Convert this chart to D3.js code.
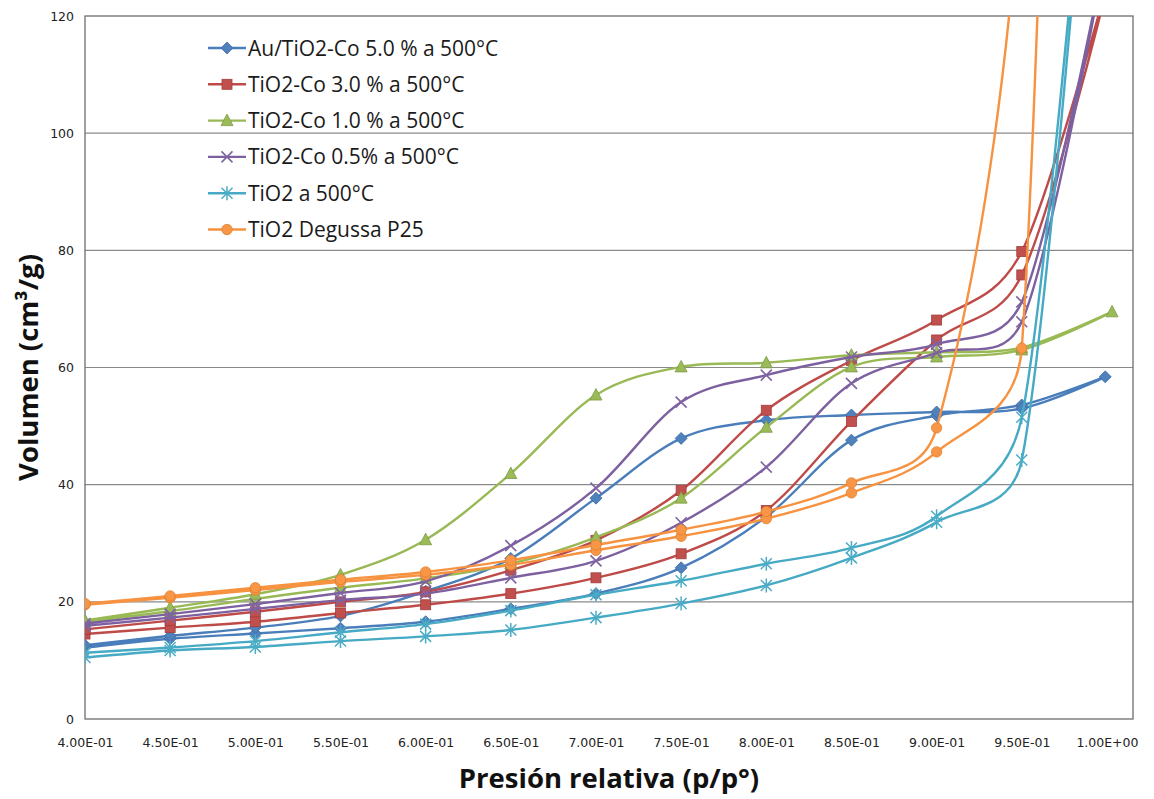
<!DOCTYPE html>
<html>
<head>
<meta charset="utf-8">
<script src="https://cdn.jsdelivr.net/npm/d3@7"></script>
<style>
  html, body { margin: 0; padding: 0; background: #ffffff; }
  svg { display: block; }
</style>
</head>
<body>
<svg id="chart" width="1154" height="799"></svg>
<script>
// Axis ticks
const xTicks = [0.40, 0.45, 0.50, 0.55, 0.60, 0.65, 0.70, 0.75, 0.80, 0.85, 0.90, 0.95, 1.00];
const xTickLabels = ["4.00E-01", "4.50E-01", "5.00E-01", "5.50E-01", "6.00E-01", "6.50E-01", "7.00E-01",
                     "7.50E-01", "8.00E-01", "8.50E-01", "9.00E-01", "9.50E-01", "1.00E+00"];
const yTicks = [0, 20, 40, 60, 80, 100, 120];

const seriesNames = [
  "Au/TiO2-Co 5.0 % a 500°C",
  "TiO2-Co 3.0 % a 500°C",
  "TiO2-Co 1.0 % a 500°C",
  "TiO2-Co 0.5% a 500°C",
  "TiO2 a 500°C",
  "TiO2 Degussa P25"
];

// Adsorption branch pressures (p/p°)
const pAds = [0.40, 0.45, 0.50, 0.55, 0.60, 0.65, 0.70, 0.75, 0.80, 0.85, 0.90, 0.95];
// Desorption branch pressures, from 0.95 back down to 0.40
const pDes = [0.95, 0.90, 0.85, 0.80, 0.75, 0.70, 0.65, 0.60, 0.55, 0.50, 0.45, 0.40];

// Highest-pressure point of each isotherm (where adsorption turns into desorption)
const topP = [0.999, 1.000, 1.003, 0.996, 0.993, 0.985];
const topV = [58.4, 125, 69.5, 126, 170, 400];

// Adsorbed volume, cm³/g
const adsAu5  = [12.2, 13.7, 14.6, 15.5, 16.6, 18.8, 21.4, 25.8, 34.5, 47.6, 51.8, 53.6];
const desAu5  = [53.0, 52.4, 51.9, 51.0, 47.9, 37.7, 27.4, 21.8, 17.6, 15.6, 14.2, 12.6];

const adsCo30 = [14.5, 15.6, 16.6, 18.1, 19.5, 21.4, 24.1, 28.2, 35.6, 50.8, 64.7, 75.8];
const desCo30 = [79.8, 68.1, 61.2, 52.7, 39.0, 30.5, 25.4, 21.7, 20.0, 18.3, 16.8, 15.3];

const adsCo10 = [16.6, 18.4, 20.5, 22.4, 24.0, 26.5, 31.0, 37.7, 49.8, 60.1, 61.8, 63.0];
const desCo10 = [63.4, 62.6, 62.1, 60.8, 60.1, 55.3, 41.9, 30.6, 24.6, 21.3, 19.0, 16.8];

const adsCo05 = [15.9, 17.3, 18.8, 20.3, 21.4, 24.1, 27.0, 33.5, 43.0, 57.3, 62.5, 67.8];
const desCo05 = [71.2, 64.0, 61.8, 58.7, 54.1, 39.4, 29.6, 23.5, 21.5, 19.6, 17.9, 16.3];

const adsTiO2 = [10.5, 11.7, 12.3, 13.3, 14.1, 15.2, 17.3, 19.7, 22.8, 27.5, 33.6, 44.2];
const desTiO2 = [51.5, 34.6, 29.2, 26.5, 23.6, 21.2, 18.5, 16.2, 14.8, 13.3, 12.2, 11.3];

const adsP25  = [19.5, 20.7, 22.0, 23.4, 24.6, 26.3, 28.8, 31.2, 34.2, 38.6, 45.6, 63.3];
const desP25  = [145, 49.7, 40.3, 35.4, 32.3, 29.7, 27.1, 25.1, 23.8, 22.4, 21.0, 19.7];

const seriesAds = [adsAu5, adsCo30, adsCo10, adsCo05, adsTiO2, adsP25];
const seriesDes = [desAu5, desCo30, desCo10, desCo05, desTiO2, desP25];
const lineColors   = ["#4A7EBB", "#BE4B48", "#98B954", "#7D60A0", "#46AAC5", "#F69240"];
const markerColors = ["#4F81BD", "#C0504D", "#9BBB59", "#8064A2", "#4BACC6", "#F79646"];
const markerTypes  = ["diamond", "square", "triangle", "x", "star", "circle"];

// Layout
const plot = { left: 85, right: 1133, top: 16, bottom: 719 };
const svg = d3.select("#chart");

const x = d3.scaleLinear().domain([0.4, 1.0153]).range([plot.left, plot.right]);
const y = d3.scaleLinear().domain([0, 120]).range([plot.bottom, plot.top]);

svg.append("defs").append("clipPath").attr("id", "plot-clip")
  .append("rect")
  .attr("x", plot.left).attr("y", plot.top)
  .attr("width", plot.right - plot.left).attr("height", plot.bottom - plot.top);

// Horizontal gridlines
svg.append("g")
  .selectAll("line")
  .data(yTicks.filter(d => d > 0 && d < 120))
  .join("line")
  .attr("x1", plot.left).attr("x2", plot.right)
  .attr("y1", d => y(d)).attr("y2", d => y(d))
  .attr("stroke", "#8a8a8a").attr("stroke-width", 1.1);

// Plot frame
svg.append("rect")
  .attr("x", plot.left).attr("y", plot.top)
  .attr("width", plot.right - plot.left).attr("height", plot.bottom - plot.top)
  .attr("fill", "none").attr("stroke", "#6e6e6e").attr("stroke-width", 1.3);

// Axes
const xAxis = d3.axisBottom(x)
  .tickValues(xTicks)
  .tickSize(0)
  .tickPadding(19)
  .tickFormat((d, i) => xTickLabels[i]);
const gx = svg.append("g").attr("transform", `translate(0,${plot.bottom})`).call(xAxis);
gx.select(".domain").remove();
gx.selectAll("text")
  .attr("font-family", "DejaVu Sans, Verdana, sans-serif")
  .attr("font-size", 12.5)
  .attr("fill", "#222");

const yAxis = d3.axisLeft(y)
  .tickValues(yTicks)
  .tickSize(0)
  .tickPadding(11);
const gy = svg.append("g").attr("transform", `translate(${plot.left},0)`).call(yAxis);
gy.select(".domain").remove();
gy.selectAll("text")
  .attr("font-family", "DejaVu Sans, Verdana, sans-serif")
  .attr("font-size", 12.5)
  .attr("fill", "#222");

// Axis titles
svg.append("text")
  .attr("x", (plot.left + plot.right) / 2)
  .attr("y", 788)
  .attr("text-anchor", "middle")
  .attr("font-family", "Open Sans, sans-serif")
  .attr("font-weight", "bold")
  .attr("font-size", 27.5)
  .attr("fill", "#111")
  .text("Presión relativa (p/p°)");

svg.append("text")
  .attr("transform", `translate(38,${(plot.top + plot.bottom) / 2}) rotate(-90)`)
  .attr("text-anchor", "middle")
  .attr("font-family", "Open Sans, sans-serif")
  .attr("font-weight", "bold")
  .attr("font-size", 27.5)
  .attr("fill", "#111")
  .text("Volumen (cm³/g)");

// Marker glyphs
function drawMarker(g, type, color) {
  if (type === "diamond") {
    g.append("path").attr("d", "M0,-6L6,0L0,6L-6,0Z").attr("fill", color).attr("stroke", "#3d6aa0").attr("stroke-width", 0.8);
  } else if (type === "square") {
    g.append("rect").attr("x", -5).attr("y", -5).attr("width", 10).attr("height", 10)
      .attr("fill", color).attr("stroke", "#a33d3a").attr("stroke-width", 0.8);
  } else if (type === "triangle") {
    g.append("path").attr("d", "M0,-6.5L6,5L-6,5Z").attr("fill", color).attr("stroke", "#7d9a44").attr("stroke-width", 0.8);
  } else if (type === "x") {
    g.append("path").attr("d", "M-5.5,-5.5L5.5,5.5M-5.5,5.5L5.5,-5.5")
      .attr("stroke", color).attr("stroke-width", 1.6).attr("fill", "none");
  } else if (type === "star") {
    g.append("path").attr("d", "M-5.5,-5.5L5.5,5.5M-5.5,5.5L5.5,-5.5M0,-7L0,7")
      .attr("stroke", color).attr("stroke-width", 1.5).attr("fill", "none");
  } else if (type === "circle") {
    g.append("circle").attr("r", 5.2).attr("fill", color).attr("stroke", "#e07f2e").attr("stroke-width", 0.8);
  }
}

// Spreadsheet-style smoothing: Bezier segments whose handles follow the
// neighbour-to-neighbour direction, with handle length capped at half the segment.
function smoothCurve(context) {
  let pts = [];
  return {
    areaStart() {}, areaEnd() {},
    lineStart() { pts = []; },
    point(px, py) { pts.push([+px, +py]); },
    lineEnd() {
      const n = pts.length;
      if (!n) return;
      context.moveTo(pts[0][0], pts[0][1]);
      if (n === 1) return;
      const tan = pts.map((p, i) => {
        const a = pts[Math.max(0, i - 1)], b = pts[Math.min(n - 1, i + 1)];
        const dx = b[0] - a[0], dy = b[1] - a[1], L = Math.hypot(dx, dy);
        return L > 0 ? [dx / L, dy / L, L / 6] : [0, 0, 0];
      });
      for (let i = 0; i < n - 1; i++) {
        const p = pts[i], q = pts[i + 1];
        const d = Math.hypot(q[0] - p[0], q[1] - p[1]);
        const a1 = Math.min(tan[i][2], d / 2), a2 = Math.min(tan[i + 1][2], d / 2);
        context.bezierCurveTo(
          p[0] + tan[i][0] * a1, p[1] + tan[i][1] * a1,
          q[0] - tan[i + 1][0] * a2, q[1] - tan[i + 1][1] * a2,
          q[0], q[1]);
      }
    }
  };
}

const lineGen = d3.line()
  .x(d => x(d[0]))
  .y(d => y(d[1]))
  .curve(smoothCurve);

// Series: adsorption up to the top point, then desorption back down, as one line
const gSeries = svg.append("g").attr("clip-path", "url(#plot-clip)");
seriesNames.forEach((name, i) => {
  const pts = pAds.map((p, j) => [p, seriesAds[i][j]])
    .concat([[topP[i], topV[i]]])
    .concat(pDes.map((p, j) => [p, seriesDes[i][j]]));
  const g = gSeries.append("g");
  g.append("path")
    .attr("d", lineGen(pts))
    .attr("fill", "none")
    .attr("stroke", lineColors[i])
    .attr("stroke-width", 2.4)
    .attr("stroke-linejoin", "round");
  pts.forEach(d => {
    const m = g.append("g").attr("transform", `translate(${x(d[0])},${y(d[1])})`);
    drawMarker(m, markerTypes[i], markerColors[i]);
  });
});

// Legend
const legend = svg.append("g").attr("transform", "translate(208,48)");
seriesNames.forEach((name, i) => {
  const row = legend.append("g").attr("transform", `translate(0,${i * 36.3})`);
  row.append("line").attr("x1", 0).attr("x2", 38).attr("y1", 0).attr("y2", 0)
    .attr("stroke", lineColors[i]).attr("stroke-width", 2.4);
  drawMarker(row.append("g").attr("transform", "translate(19,0)"), markerTypes[i], markerColors[i]);
  row.append("text")
    .attr("x", 40).attr("y", 7.5)
    .attr("font-family", "Open Sans, sans-serif")
    .attr("font-size", 21)
    .attr("fill", "#1a1a1a")
    .text(name);
});
</script>
</body>
</html>
